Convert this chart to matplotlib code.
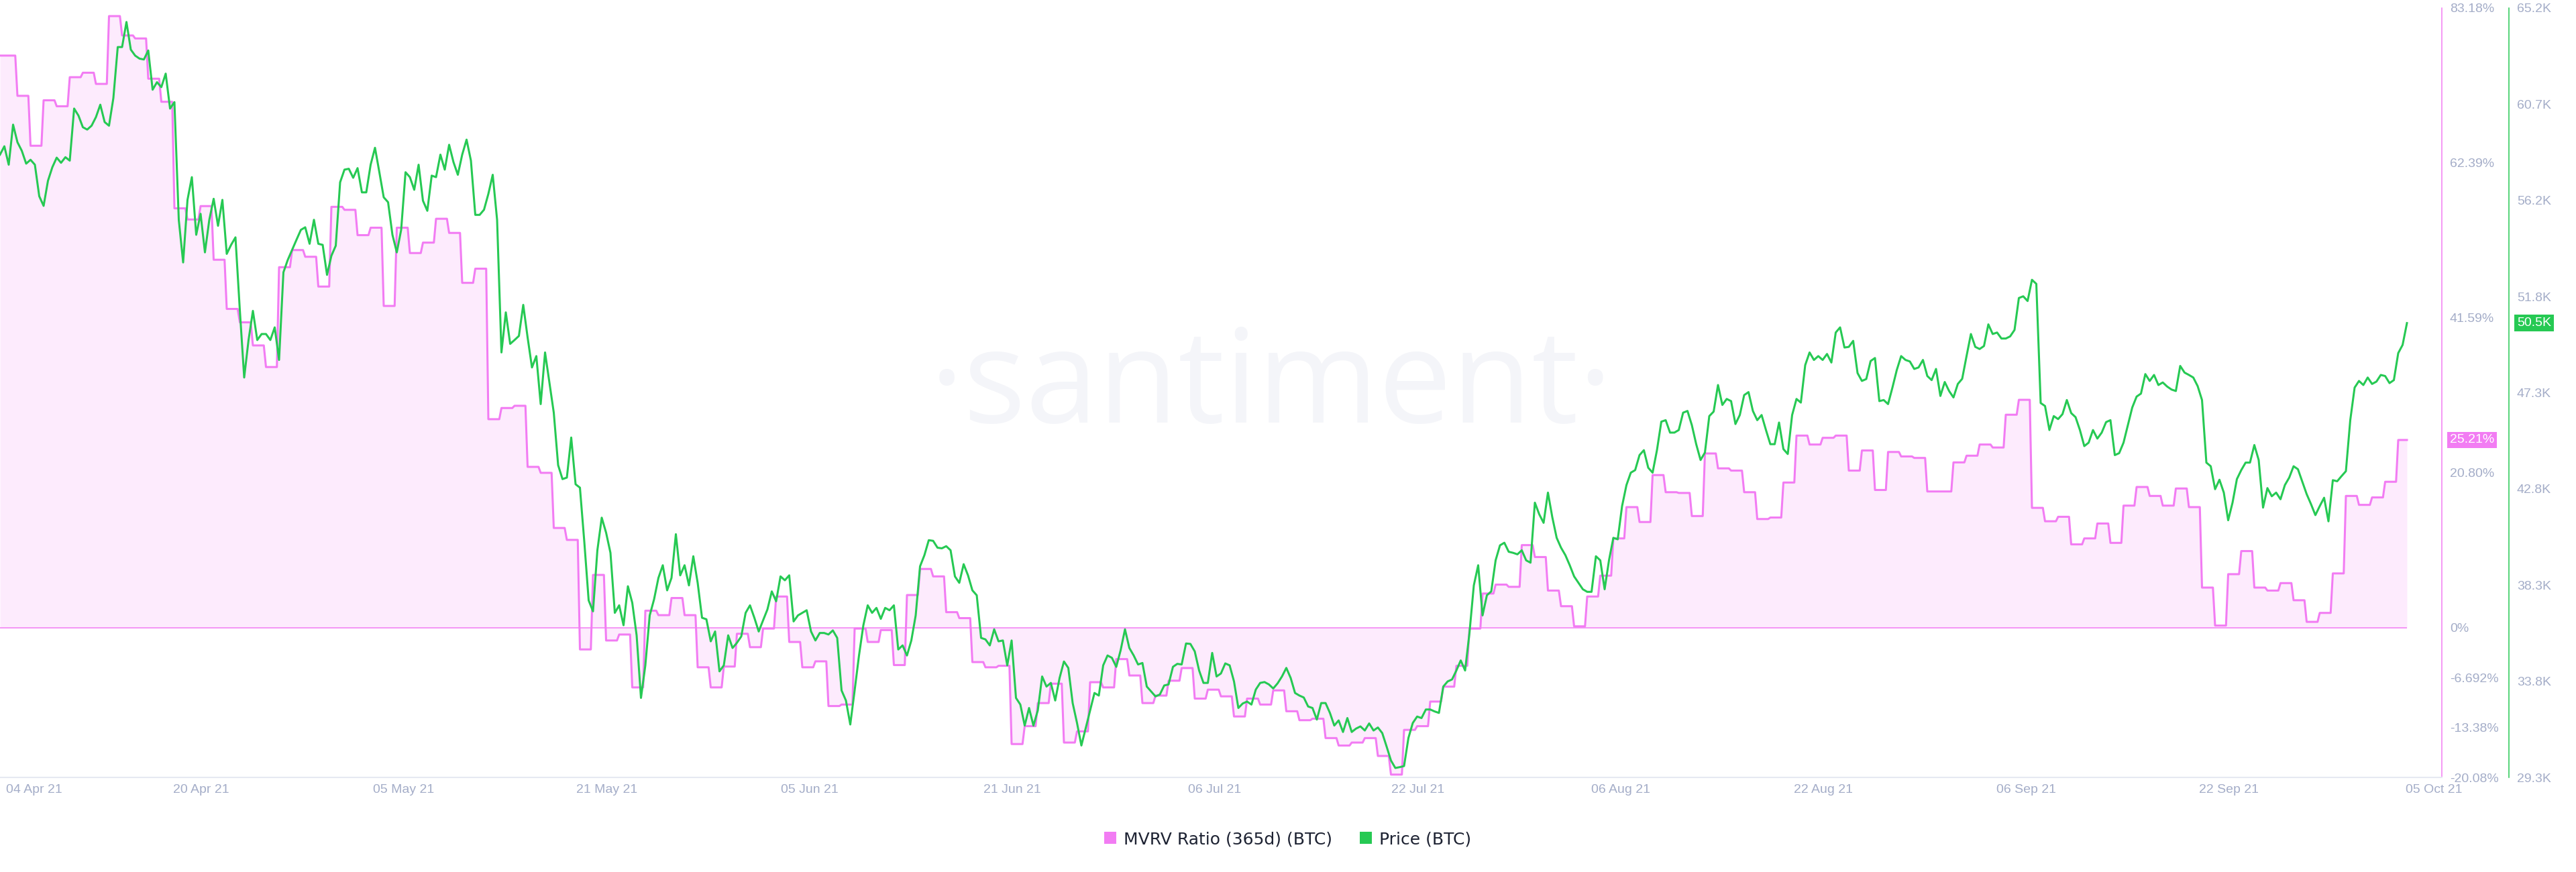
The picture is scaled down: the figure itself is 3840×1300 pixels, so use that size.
import numpy as np
import pandas as pd
import matplotlib
matplotlib.use("Agg")
import matplotlib.pyplot as plt
from matplotlib.patches import Patch

# time range of the series (4h / 8h samples)
start = "2021-04-04 16:00"
end = "2021-10-05 16:00"

# MVRV ratio (365d), one value per day, percent
mvrv_days = pd.date_range("2021-04-04", "2021-10-05", freq="D")
mvrv_pct = [
    # Apr 4 - Apr 30
    76.8, 76.8, 71.4, 64.7, 70.8, 70.0, 73.9, 74.5, 73.0, 82.1,
    79.5, 79.1, 73.7, 70.6, 56.3, 54.8, 56.6, 49.4, 42.8, 41.0,
    37.9, 35.0, 48.4, 50.7, 49.8, 45.8, 56.5,
    # May
    56.1, 52.7, 53.7, 43.2, 53.7, 50.3, 51.7, 54.9, 53.0, 46.3,
    48.2, 28.0, 29.5, 29.8, 21.6, 20.8, 13.4, 11.8, -2.9, 7.1,
    -1.7, -0.9, -8.0, 2.3, 1.7, 4.0, 1.7, -5.3, -8.0, -5.2, -0.8,
    # Jun
    -2.6, -0.1, 4.2, -1.9, -5.3, -4.5, -10.5, -10.3, -0.1, -1.9,
    -0.3, -5.0, 4.4, 7.9, 6.9, 2.1, 1.3, -4.6, -5.3, -5.1,
    -15.6, -13.2, -10.1, -7.5, -15.4, -13.9, -7.3, -8.0, -4.2, -6.4,
    # Jul
    -10.1, -9.1, -7.1, -5.4, -9.5, -8.3, -9.2, -11.9, -9.5, -10.3,
    -8.4, -11.2, -12.4, -12.2, -14.8, -15.8, -15.4, -14.8, -17.2, -19.7,
    -13.7, -13.2, -9.9, -7.9, -5.1, -0.1, 4.6, 5.8, 5.5, 11.1, 9.5,
    # Aug
    5.0, 2.9, 0.2, 4.2, 7.0, 12.0, 16.2, 14.2, 20.5, 18.2,
    18.1, 15.0, 23.4, 21.4, 21.1, 18.2, 14.6, 14.8, 19.5, 25.8,
    24.6, 25.5, 25.8, 21.1, 23.8, 18.5, 23.6, 23.0, 22.8, 18.3, 18.3,
    # Sep
    22.2, 23.1, 24.6, 24.2, 28.6, 30.6, 16.1, 14.3, 14.9, 11.2,
    12.0, 14.0, 11.4, 16.4, 18.9, 17.7, 16.4, 18.7, 16.2, 5.4,
    0.3, 7.2, 10.3, 5.4, 5.0, 6.0, 3.7, 0.8, 2.0, 7.3,
    # Oct
    17.7, 16.5, 17.5, 19.6, 25.21,
]

# BTC price, every 8 hours, thousands of USD
price_k = [
    58.36, 58.75, 57.89, 59.76, 58.94, 58.54, 57.94, 58.12, 57.89, 56.42,
    55.97, 57.14, 57.77, 58.22, 57.98, 58.24, 58.08, 60.51, 60.18, 59.64,
    59.53, 59.71, 60.11, 60.69, 59.88, 59.71, 61.00, 63.38, 63.38, 64.55,
    63.26, 62.98, 62.84, 62.80, 63.22, 61.39, 61.74, 61.51, 62.14, 60.51,
    60.81, 55.32, 53.33, 56.25, 57.31, 54.62, 55.60, 53.80, 55.32, 56.30,
    55.04, 56.25, 53.73, 54.15, 54.50, 51.11, 47.96, 49.71, 51.07, 49.71,
    49.99, 49.99, 49.71, 50.30, 48.78, 52.87, 53.45, 53.92, 54.39, 54.85,
    54.97, 54.20, 55.32, 54.20, 54.15, 52.75, 53.64, 54.11, 57.07, 57.66,
    57.70, 57.28, 57.73, 56.60, 56.60, 57.89, 58.68, 57.54, 56.37, 56.14,
    54.62, 53.80, 54.85, 57.54, 57.31, 56.72, 57.89, 56.21, 55.74, 57.38,
    57.31, 58.36, 57.66, 58.82, 58.01, 57.42, 58.36, 59.06, 58.08, 55.55,
    55.55, 55.79, 56.53, 57.42,
    55.32, 49.13, 51.00, 49.53, 49.71, 49.90, 51.35, 49.83, 48.43, 48.96,
    46.72, 49.13, 47.73, 46.32, 43.87, 43.22, 43.29, 45.16, 42.98, 42.82,
    40.30, 37.56, 37.05, 39.90, 41.42, 40.72, 39.78, 36.98, 37.33, 36.40,
    38.22, 37.45, 35.93, 33.01, 34.53, 36.86, 37.61, 38.61, 39.20, 38.03,
    38.61, 40.65, 38.73, 39.20, 38.26, 39.62, 38.38, 36.75, 36.68, 35.65,
    36.11, 34.25, 34.53, 35.93, 35.34, 35.58, 35.88, 36.98, 37.33, 36.75,
    36.11, 36.63, 37.14, 37.98, 37.52, 38.68, 38.50, 38.73, 36.58, 36.86,
    36.98, 37.10, 36.11, 35.69, 36.04, 36.04, 35.97, 36.16, 35.81, 33.36,
    32.89, 31.77, 33.36, 34.99, 36.40, 37.33, 36.98, 37.21, 36.70, 37.21,
    37.10, 37.33, 35.27, 35.46, 34.99, 35.69, 36.86, 39.15, 39.67, 40.37,
    40.34, 40.02, 39.99, 40.09, 39.90, 38.68, 38.38, 39.25, 38.73, 38.03,
    37.80, 35.81, 35.74,
    35.46, 36.21, 35.65, 35.69, 34.53, 35.69, 33.01, 32.70, 31.72, 32.54,
    31.72, 32.42, 34.01, 33.54, 33.71, 32.89, 33.94, 34.71, 34.41, 32.77,
    31.84, 30.79, 31.61, 32.42, 33.24, 33.12, 34.53, 34.99, 34.88, 34.46,
    35.23, 36.21, 35.34, 34.99, 34.57, 34.64, 33.54, 33.31, 33.08, 33.17,
    33.59, 33.64, 34.46, 34.60, 34.57, 35.55, 35.53, 35.18, 34.29, 33.71,
    33.71, 35.11, 34.01, 34.15, 34.62, 34.53, 33.78, 32.54, 32.75, 32.84,
    32.70, 33.40, 33.71, 33.75, 33.64, 33.45, 33.69, 34.01, 34.41, 33.94,
    33.24, 33.12, 33.03, 32.61, 32.54, 32.00, 32.77, 32.77, 32.31, 31.72,
    31.96, 31.42, 32.07, 31.42, 31.58, 31.68, 31.49, 31.82, 31.49, 31.63,
    31.37, 30.74, 30.09, 29.74, 29.78, 29.83, 31.14, 31.84, 32.14, 32.07,
    32.47, 32.47, 32.38, 32.31, 33.54, 33.78, 33.87, 34.29, 34.76, 34.29,
    36.04, 38.26,
    39.20, 36.86, 37.80, 37.98, 39.43, 40.13, 40.25, 39.83, 39.78, 39.71,
    39.90, 39.43, 39.32, 42.12, 41.58, 41.18, 42.59, 41.44, 40.48, 40.02,
    39.67, 39.20, 38.68, 38.38, 38.08, 37.96, 37.96, 39.62, 39.43, 38.08,
    39.43, 40.48, 40.41, 41.96, 42.94, 43.52, 43.64, 44.34, 44.57, 43.75,
    43.52, 44.57, 45.90, 45.97, 45.39, 45.39, 45.51, 46.32, 46.40, 45.74,
    44.85, 44.11, 44.46, 46.16, 46.37, 47.61, 46.68, 46.96, 46.86, 45.79,
    46.21, 47.14, 47.28, 46.40, 45.97, 46.21, 45.51, 44.85, 44.85, 45.86,
    44.62, 44.39, 46.21, 46.96, 46.79, 48.54, 49.13, 48.78, 48.96, 48.78,
    49.06, 48.66, 50.06, 50.30, 49.36, 49.39, 49.67, 48.17, 47.80, 47.89,
    48.73, 48.87, 46.86, 46.91, 46.72, 47.49, 48.31, 48.96, 48.78, 48.71,
    48.36, 48.43, 48.78, 48.03, 47.84, 48.36, 47.10, 47.75, 47.33, 47.03,
    47.66, 47.90,
    48.96, 49.99, 49.39, 49.29, 49.43, 50.44, 49.99, 50.06, 49.78, 49.78,
    49.88, 50.18, 51.67, 51.75, 51.53, 52.52, 52.33, 46.77, 46.63, 45.51,
    46.16, 46.02, 46.25, 46.91, 46.30, 46.11, 45.51, 44.76, 44.92, 45.51,
    45.11, 45.39, 45.88, 45.97, 44.34, 44.43, 44.92, 45.74, 46.56, 47.07,
    47.21, 48.12, 47.80, 48.08, 47.61, 47.73, 47.54, 47.40, 47.33, 48.50,
    48.19, 48.08, 47.96, 47.56, 46.91, 43.99, 43.82, 42.75, 43.19, 42.59,
    41.30, 42.12, 43.22, 43.64, 43.99, 43.99, 44.81, 44.11, 41.89, 42.80,
    42.42, 42.59, 42.28, 42.94, 43.29, 43.82, 43.68, 43.10, 42.52, 42.05,
    41.54, 41.96, 42.35, 41.25, 43.17, 43.12, 43.36, 43.59, 45.97, 47.49,
    47.80, 47.61, 47.96, 47.66, 47.77, 48.08, 48.03, 47.70, 47.84, 49.10,
    49.48, 50.50,
]

tick_dates = [
    "2021-04-07 07:00", "2021-04-20 01:00", "2021-05-05 13:00", "2021-05-21 01:00",
    "2021-06-05 13:00", "2021-06-21 01:00", "2021-07-06 13:00", "2021-07-22 01:00",
    "2021-08-06 13:00", "2021-08-22 01:00", "2021-09-06 13:00", "2021-09-22 01:00",
    "2021-10-07 17:00",
]
tick_labels = [
    "04 Apr 21", "20 Apr 21", "05 May 21", "21 May 21", "05 Jun 21", "21 Jun 21",
    "06 Jul 21", "22 Jul 21", "06 Aug 21", "22 Aug 21", "06 Sep 21", "22 Sep 21",
    "05 Oct 21",
]
mvrv_ticks = [83.18, 62.39, 41.59, 20.80, 0, -6.692, -13.38, -20.08]
mvrv_tick_labels = ["83.18%", "62.39%", "41.59%", "20.80%", "0%", "-6.692%", "-13.38%", "-20.08%"]
price_tick_labels = ["29.3K", "33.8K", "38.3K", "42.8K", "47.3K", "51.8K", "56.2K", "60.7K", "65.2K"]
mvrv_last = 25.21
price_last = 50.5

PINK = "#f27cf3"
GREEN = "#26c953"
AXIS_TEXT = "#a4adc8"
W, H = 3840, 1300

plt.rcParams["font.family"] = ["Liberation Sans", "DejaVu Sans"]

times_4h = pd.date_range(start, end, freq="4h")
mvrv = pd.Series(mvrv_pct, index=mvrv_days).reindex(times_4h, method="ffill")
price = pd.Series(price_k, index=pd.date_range(start, end, freq="8h"))

fig = plt.figure(figsize=(W / 100, H / 100), dpi=100)
ax = fig.add_axes([0, 141 / H, 3640 / W, 1147 / H])
ax2 = ax.twinx()

# watermark
ax.text(1895 / W, 1 - 630 / H, "\u00b7santiment\u00b7", transform=fig.transFigure,
        fontsize=140, family=["Open Sans", "DejaVu Sans"], color="#f4f5f9",
        ha="center", va="baseline", zorder=0)

ax.fill_between(mvrv.index, mvrv.values, 0, color=PINK, alpha=0.15, linewidth=0, zorder=1)
ax.hlines(0, mvrv.index[0], mvrv.index[-1], color=PINK, lw=1.1, zorder=2)
ax.plot(mvrv.index, mvrv.values, color=PINK, lw=2.2, zorder=3)
ax2.plot(price.index, price.values, color=GREEN, lw=2.2)

ax.set_xlim(pd.Timestamp("2021-04-04 16:00"), pd.Timestamp("2021-10-08 08:00"))
ax.set_ylim(-20.08, 83.18)
ax2.set_ylim(29.3, 65.2)

ax.set_xticks(pd.to_datetime(tick_dates), tick_labels)
ax.tick_params(axis="x", length=0, pad=7, labelsize=14, labelcolor=AXIS_TEXT)

ax.yaxis.tick_right()
ax.set_yticks(mvrv_ticks, mvrv_tick_labels)
ax.tick_params(axis="y", length=0, pad=8.6, labelsize=14, labelcolor=AXIS_TEXT)
ax2.set_yticks(np.linspace(29.3, 65.2, 9), price_tick_labels)
ax2.tick_params(axis="y", length=0, pad=8.6, labelsize=14, labelcolor=AXIS_TEXT)

for s in ["top", "left"]:
    ax.spines[s].set_visible(False)
ax.spines["right"].set_color(PINK)
ax.spines["right"].set_linewidth(1.1)
ax.spines["bottom"].set_color("#e6e9f2")
ax.spines["bottom"].set_linewidth(1.5)
for s in ["top", "left", "bottom"]:
    ax2.spines[s].set_visible(False)
ax2.spines["right"].set_position(("axes", 3740 / 3640))
ax2.spines["right"].set_color(GREEN)
ax2.spines["right"].set_linewidth(1.1)

# last value boxes
ax.annotate(f"{mvrv_last:.2f}%", xy=(1, mvrv_last), xycoords=ax.get_yaxis_transform(),
            xytext=(8.6, 0), textcoords="offset points", ha="left", va="center",
            fontsize=14, color="white", annotation_clip=False,
            bbox=dict(boxstyle="square,pad=0.2", fc=PINK, ec="none"))
ax2.annotate(f"{price_last:.1f}K", xy=(3740 / 3640, price_last), xycoords=ax2.get_yaxis_transform(),
             xytext=(8.6, 0), textcoords="offset points", ha="left", va="center",
             fontsize=14, color="white", annotation_clip=False,
             bbox=dict(boxstyle="square,pad=0.2", fc=GREEN, ec="none"))

handles = [Patch(facecolor=PINK, edgecolor="none", label="MVRV Ratio (365d) (BTC)"),
           Patch(facecolor=GREEN, edgecolor="none", label="Price (BTC)")]
fig.legend(handles=handles, loc="center", bbox_to_anchor=(0.4999, 1 - 1251 / H), ncol=2,
           frameon=False, prop={"family": "DejaVu Sans", "size": 18}, labelcolor="#1d2232",
           handlelength=0.72, handleheight=0.72, handletextpad=0.44, columnspacing=1.64)

fig.savefig("out.png", dpi=100, facecolor="white")
